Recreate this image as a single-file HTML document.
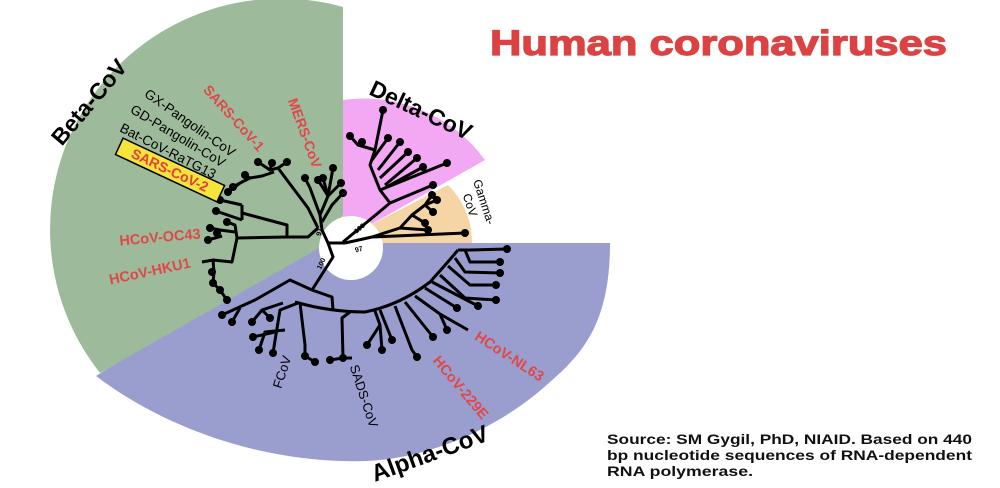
<!DOCTYPE html>
<html><head><meta charset="utf-8"><style>
html,body{margin:0;padding:0;background:#fff;}
svg{display:block;font-family:"Liberation Sans",sans-serif;}
</style></head><body>
<svg width="1000" height="488" viewBox="0 0 1000 488" xmlns="http://www.w3.org/2000/svg">
<rect width="1000" height="488" fill="#fff"/>
<!-- wedges -->
<path d="M340 250 L385 243 L610 243 C610 320 585 352 550 382 C500 428 430 458 367 461 C270 464 170 432 96 376 L200 310 L320 238 Z" fill="#9a9ecf"/>
<path d="M328 243 L343 215 L343 7 A231 231 0 0 0 100 373 Z" fill="#9dba9a"/>
<path d="M340 242 L343 215 L343 100 A150 150 0 0 1 485 160 Z" fill="#f2a8f2"/>
<path d="M345 238 L448 185 A80 80 0 0 1 472 243 L350 243 Z" fill="#f5d5a6"/>
<circle cx="351" cy="248" r="32" fill="#fff"/>

<g stroke="#000" stroke-width="3" fill="none" stroke-linejoin="round">
<!-- root -->
<polyline points="322,230 328,243 345,243"/>
<polyline points="328,243 333,257 312,290"/>
<!-- MERS -->
<polyline points="322,230 320,215 310,188 305,178"/>
<polyline points="320,215 328,196 318,180"/>
<polyline points="328,196 323,178"/>
<polyline points="328,196 333,168"/>
<polyline points="328,196 341,183"/>
<polyline points="322,222 332,205 343,193"/>
<!-- SARS clade -->
<polyline points="318,228 308,208 278,168 287,162"/>
<polyline points="278,168 270,170 272,163"/>
<polyline points="270,170 258,162"/>
<polyline points="274,172 262,176 250,178 240,183 233,187"/>
<polyline points="250,178 245,175"/>
<polyline points="240,183 228,192"/>
<!-- middle -->
<polyline points="318,228 308,237 287,237 287,225 242,213"/>
<polyline points="242,205 242,220"/>
<polyline points="242,205 220,200"/>
<polyline points="242,220 216,211"/>
<polyline points="287,237 237,238"/>
<polyline points="237,238 235,225 227,222"/>
<polyline points="237,238 232,262 213,260 202,262"/>
<polyline points="235,232 220,230 217,233"/>
<polyline points="220,230 210,228"/>
<polyline points="222,236 208,240"/>
<polyline points="213,260 214,272 213,283 220,290 227,300"/>
<!-- alpha -->
<polyline points="312,290 290,280 255,300 222,315"/>
<polyline points="240,308 232,322"/>
<polyline points="312,290 332,297 333,310"/>
<path d="M295 302 Q330 312 365 312 Q400 305 430 282 Q448 262 458 250"/>
<polyline points="458,250 470,250 507,249"/>
<polyline points="465,250 470,262 500,262"/>
<polyline points="455,258 465,272 500,273"/>
<polyline points="448,266 470,285 496,285"/>
<polyline points="440,275 465,298 496,300"/>
<polyline points="432,282 478,306"/>
<polyline points="425,288 457,308"/>
<polyline points="415,296 440,314 468,330"/>
<polyline points="440,314 447,330"/>
<polyline points="405,302 433,337"/>
<polyline points="395,306 412,350 417,357"/>
<polyline points="380,310 392,340"/>
<polyline points="375,311 380,325 382,350"/>
<polyline points="380,325 367,345"/>
<polyline points="350,312 342,318 343,358"/>
<polyline points="330,360 343,358 352,358"/>
<polyline points="300,303 305,345 305,356 315,362"/>
<polyline points="298,303 280,310 273,353"/>
<polyline points="285,330 265,332 259,350"/>
<polyline points="275,332 253,337"/>
<polyline points="283,303 262,310 252,322"/>
<polyline points="262,310 270,318"/>
<!-- delta -->
<polyline points="343,242 390,203 433,185"/>
<polyline points="390,203 380,190 447,163"/>
<polyline points="380,190 370,165 375,150 383,110"/>
<polyline points="375,150 358,145 350,136"/>
<polyline points="358,145 362,142"/>
<polyline points="372,160 388,138"/>
<polyline points="378,170 400,142"/>
<polyline points="380,178 408,152"/>
<polyline points="385,185 417,158"/>
<polyline points="385,188 423,167"/>
<!-- gamma -->
<polyline points="345,243 372,237 465,233"/>
<polyline points="372,237 400,228 428,230"/>
<polyline points="400,228 412,215 425,223"/>
<polyline points="412,215 425,205 433,212"/>
<polyline points="425,205 437,200"/>
<polyline points="425,205 432,195"/>
</g>
<g fill="#000">
<circle cx="305" cy="178" r="4"/><circle cx="318" cy="180" r="4"/><circle cx="323" cy="178" r="4"/><circle cx="333" cy="168" r="4"/><circle cx="341" cy="183" r="4"/><circle cx="343" cy="193" r="4"/>
<circle cx="287" cy="162" r="4"/><circle cx="272" cy="163" r="4"/><circle cx="258" cy="162" r="4"/><circle cx="245" cy="175" r="4"/><circle cx="233" cy="187" r="4"/><circle cx="228" cy="192" r="4"/>
<circle cx="220" cy="200" r="4"/><circle cx="216" cy="211" r="4"/><circle cx="227" cy="222" r="4"/><circle cx="210" cy="228" r="4"/><circle cx="217" cy="233" r="4"/><circle cx="208" cy="240" r="4"/>
<circle cx="212" cy="272" r="4"/><circle cx="213" cy="283" r="4"/><circle cx="220" cy="290" r="4"/><circle cx="227" cy="300" r="4"/>
<circle cx="222" cy="315" r="4"/><circle cx="232" cy="322" r="4"/>
<circle cx="507" cy="249" r="4"/><circle cx="500" cy="262" r="4"/><circle cx="500" cy="273" r="4"/><circle cx="496" cy="285" r="4"/><circle cx="496" cy="300" r="4"/><circle cx="478" cy="306" r="4"/><circle cx="457" cy="308" r="4"/>
<circle cx="447" cy="330" r="4"/><circle cx="433" cy="337" r="4"/><circle cx="417" cy="357" r="4"/><circle cx="392" cy="340" r="4"/><circle cx="382" cy="350" r="4"/><circle cx="367" cy="345" r="4"/>
<circle cx="330" cy="360" r="4"/><circle cx="343" cy="358" r="4"/><circle cx="315" cy="362" r="4"/><circle cx="305" cy="356" r="4"/><circle cx="273" cy="353" r="4"/><circle cx="259" cy="350" r="4"/><circle cx="253" cy="337" r="4"/><circle cx="252" cy="322" r="4"/><circle cx="270" cy="318" r="4"/>
<circle cx="433" cy="185" r="4"/><circle cx="447" cy="163" r="4"/><circle cx="383" cy="110" r="4"/><circle cx="350" cy="136" r="4"/><circle cx="362" cy="142" r="4"/><circle cx="388" cy="138" r="4"/><circle cx="400" cy="142" r="4"/><circle cx="408" cy="152" r="4"/><circle cx="417" cy="158" r="4"/><circle cx="423" cy="167" r="4"/>
<circle cx="465" cy="233" r="4"/><circle cx="428" cy="230" r="4"/><circle cx="425" cy="223" r="4"/><circle cx="433" cy="212" r="4"/><circle cx="437" cy="200" r="4"/><circle cx="432" cy="195" r="4"/>
</g>

<!-- labels -->
<g text-anchor="middle" dominant-baseline="central">
<text transform="translate(89,102) rotate(-50)" font-size="23" font-weight="bold">Beta-CoV</text>
<text transform="translate(190,123) rotate(35)" font-size="13.5">GX-Pangolin-CoV</text>
<text transform="translate(178,136) rotate(31)" font-size="13.5">GD-Pangolin-CoV</text>
<text transform="translate(168,151) rotate(27)" font-size="13.5">Bat-CoV-RaTG13</text>
<g transform="translate(170,170) rotate(25)">
<rect x="-56" y="-9" width="112" height="18" fill="#f5e43a" stroke="#000" stroke-width="1.5"/>
<text font-size="14" font-weight="bold" fill="#e04040">SARS-CoV-2</text></g>
<text transform="translate(234,118) rotate(48)" font-size="14" font-weight="bold" fill="#e04848">SARS-CoV-1</text>
<text transform="translate(305,133) rotate(70)" font-size="14" font-weight="bold" fill="#e04848">MERS-CoV</text>
<text transform="translate(160,238) rotate(-5)" font-size="14.5" font-weight="bold" fill="#e04848">HCoV-OC43</text>
<text transform="translate(150,272) rotate(-12)" font-size="14.5" font-weight="bold" fill="#e04848">HCoV-HKU1</text>
<text transform="translate(421,110) rotate(25)" font-size="23" font-weight="bold">Delta-CoV</text>
<text transform="translate(484,202) rotate(72)" font-size="12">Gamma-</text>
<text transform="translate(470,205) rotate(72)" font-size="12">CoV</text>
<text transform="translate(360,229) rotate(-40)" font-size="7" font-weight="bold">100</text>
<text transform="translate(359,250) rotate(-15)" font-size="7" font-weight="bold">97</text>
<text transform="translate(320,232) rotate(-80)" font-size="7" font-weight="bold">97</text>
<text transform="translate(322,264) rotate(-65)" font-size="7" font-weight="bold">100</text>
<text transform="translate(282,372) rotate(-72)" font-size="13">FCoV</text>
<text transform="translate(364,396) rotate(72)" font-size="13">SADS-CoV</text>
<text transform="translate(460,388) rotate(50)" font-size="14.5" font-weight="bold" fill="#e04848">HCoV-229E</text>
<text transform="translate(509,357) rotate(33)" font-size="14.5" font-weight="bold" fill="#e04848">HCoV-NL63</text>
<text transform="translate(430,454) rotate(-20)" font-size="24" font-weight="bold">Alpha-CoV</text>
</g>
<text x="490" y="55" font-size="35" font-weight="bold" fill="#dc4242" stroke="#dc4242" stroke-width="1.2" textLength="457" lengthAdjust="spacingAndGlyphs">Human coronaviruses</text>
<g font-size="14" font-weight="bold" fill="#111">
<text x="607" y="444" textLength="365" lengthAdjust="spacingAndGlyphs">Source: SM Gygil, PhD, NIAID. Based on 440</text>
<text x="607" y="460" textLength="365" lengthAdjust="spacingAndGlyphs">bp nucleotide sequences of RNA-dependent</text>
<text x="607" y="476" textLength="146" lengthAdjust="spacingAndGlyphs">RNA polymerase.</text>
</g>
</svg>
</body></html>
